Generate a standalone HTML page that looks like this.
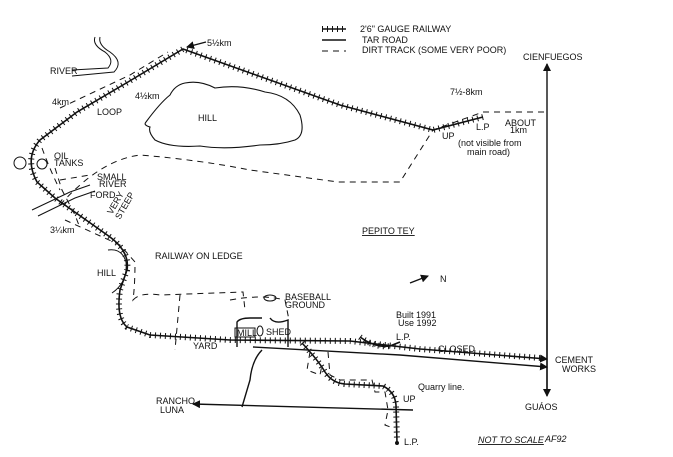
<!DOCTYPE html>
<html><head><meta charset="utf-8"><style>
body{margin:0;background:#fff}
svg{display:block}
text{font-family:"Liberation Sans",sans-serif;fill:#111;font-size:9px}
.rail{fill:none;stroke:#111;stroke-width:1.6}
.tick{fill:none;stroke:#111;stroke-width:6;stroke-dasharray:1 4}
.road{fill:none;stroke:#111;stroke-width:1.4}
.dirt{fill:none;stroke:#111;stroke-width:1;stroke-dasharray:6 5}
</style></head><body>
<svg width="673" height="457" viewBox="0 0 673 457" xmlns="http://www.w3.org/2000/svg">
<defs><marker id="a" markerWidth="8" markerHeight="8" refX="7" refY="4" orient="auto" markerUnits="userSpaceOnUse"><path d="M0,0 L8,4 L0,8 Z" fill="#111"/></marker></defs>
<!-- legend -->
<path class="rail" d="M322,29 H346"/><path class="tick" d="M322,29 H346"/>
<path class="road" d="M322,40 H346"/>
<path class="dirt" d="M322,51 H346" stroke-dasharray="4 4"/>
<text x="360" y="32">2'6" GAUGE RAILWAY</text>
<text x="362" y="43">TAR ROAD</text>
<text x="362" y="53">DIRT TRACK (SOME VERY POOR)</text>
<!-- main railway -->
<path class="rail" d="M483,117 L433,130 L340,105 L183,49 L128,82 L77,112 L40,140 Q24,158 37,182 L55,198 L110,237 Q130,252 127,270 L120,290 Q116,318 127,327 L150,335 L230,340 L350,341 L420,349 L547,359" marker-end="url(#a)"/>
<path class="tick" d="M483,117 L433,130 L340,105 L183,49 L128,82 L77,112 L40,140 Q24,158 37,182 L55,198 L110,237 Q130,252 127,270 L120,290 Q116,318 127,327 L150,335 L230,340 L350,341 L420,349 L540,358"/>
<!-- quarry line -->
<path class="rail" d="M302,343 Q318,360 325,372 Q332,383 345,384 L383,386 Q395,392 396,405 L397,443"/>
<path class="tick" d="M302,343 Q318,360 325,372 Q332,383 345,384 L383,386 Q395,392 396,405 L397,440"/>
<circle cx="397" cy="443" r="2" fill="#111"/>
<!-- LP siding built 1991 -->
<path class="rail" d="M360,337 Q375,348 390,346 L400,342"/><path class="tick" d="M360,337 Q375,348 390,346"/>
<!-- dirt tracks -->
<path class="dirt" d="M60,108 L130,75 L168,52"/>
<path class="dirt" d="M42,148 Q50,170 60,190"/>
<path class="dirt" d="M55,168 L62,190 L75,215 L80,228"/>
<path class="dirt" d="M60,180 L90,175"/>
<path class="dirt" d="M65,220 L120,245 L135,262 Q135,285 133,300 Q140,292 160,295 L243,292 L245,310"/>
<path class="dirt" d="M60,205 Q100,160 140,155 Q200,160 250,170 L338,182 L400,182 L433,130 L483,112 L547,112"/>
<path class="dirt" d="M180,295 L175,350"/>
<path class="dirt" d="M310,352 L307,370 L320,375 L322,365 M328,352 L330,375 L340,380 L372,380 L375,392 L385,392 L388,410 L385,425 L393,428"/>
<path class="dirt" d="M230,300 Q262,294 285,300 L289,320"/>
<!-- hill blob -->
<path fill="none" stroke="#111" stroke-width="1.1" d="M185,83 Q200,80 215,88 Q240,84 265,92 Q290,95 300,115 Q306,135 295,140 Q280,145 260,145 Q225,150 200,146 Q170,148 155,140 Q148,132 150,127 Q143,125 146,122 Q160,103 170,95 Q175,85 185,83 Z"/>
<text x="198" y="121" font-size="13">HILL</text>
<!-- river -->
<path fill="none" stroke="#111" stroke-width="1" d="M95,37 Q92,45 105,52 Q115,60 108,68 L72,70 M100,37 Q98,45 110,52 Q124,62 114,72 L72,76"/>
<text x="50" y="74" font-size="7">RIVER</text>
<!-- small river -->
<path fill="none" stroke="#111" stroke-width="1" d="M32,210 L70,192 L90,185 M38,216 L75,198 L95,191"/>
<!-- hill near ledge -->
<path fill="none" stroke="#111" stroke-width="1" d="M108,250 Q122,248 126,262 Q128,282 112,293"/>
<text x="97" y="276" font-size="7">HILL</text>
<!-- mill area -->
<path class="road" d="M237,347 L237,322 Q240,318 250,318 L262,318 M270,318 Q275,325 288,320 L288,347"/>
<rect x="235" y="328" width="20" height="9" fill="none" stroke="#111"/>
<text x="237" y="336" font-size="6">MILL</text>
<ellipse cx="260" cy="331" rx="3" ry="5" fill="none" stroke="#111"/>
<text x="266" y="335" font-size="7">SHED</text>
<ellipse cx="270" cy="298" rx="6" ry="3" fill="none" stroke="#111"/>
<text x="285" y="300" font-size="7">BASEBALL</text>
<text x="285" y="308" font-size="7">GROUND</text>
<!-- roads -->
<path class="road" d="M253,347 L400,355 L547,367" marker-end="url(#a)"/>
<path class="road" d="M262,350 Q252,360 250,380 L242,407"/>
<path class="road" d="M413,410 L193,404" marker-end="url(#a)"/>
<path class="road" d="M547,395 V64" marker-end="url(#a)"/>
<path class="road" d="M547,300 V396" marker-end="url(#a)"/>
<!-- ovals (oil tanks) -->
<circle cx="20" cy="163" r="6" fill="none" stroke="#111"/>
<circle cx="42" cy="164" r="5" fill="none" stroke="#111"/>
<!-- labels -->
<text x="207" y="46">5½km</text>
<path class="road" stroke-width="1" d="M206,42 L187,47" marker-end="url(#a)"/>
<text x="135" y="99">4½km</text>
<text x="52" y="105">4km</text>
<text x="97" y="115" font-size="7">LOOP</text>
<text x="54" y="159" font-size="7">OIL</text>
<text x="54" y="166" font-size="7">TANKS</text>
<text x="97" y="180" font-size="7">SMALL</text>
<text x="99" y="187" font-size="7">RIVER</text>
<text x="90" y="198" font-size="7">FORD</text>
<text x="50" y="233">3¼km</text>
<text x="112" y="215" font-size="7" transform="rotate(-60 112 215)">VERY</text>
<text x="120" y="220" font-size="7" transform="rotate(-60 120 220)">STEEP</text>
<text x="155" y="259" font-size="7">RAILWAY ON LEDGE</text>
<text x="193" y="349" font-size="6">YARD</text>
<text x="362" y="234" font-size="11" text-decoration="underline">PEPITO TEY</text>
<text x="450" y="95">7½-8km</text>
<text x="476" y="130">L.P</text>
<text x="442" y="139" font-size="7">UP</text>
<text x="458" y="146" font-size="8">(not visible from</text>
<text x="467" y="155" font-size="8">main road)</text>
<text x="505" y="126" font-size="6">ABOUT</text>
<text x="510" y="133" font-size="6">1km</text>
<text x="523" y="60">CIENFUEGOS</text>
<path class="road" d="M410,283 L428,276" stroke-width="2" marker-end="url(#a)"/>
<text x="440" y="282">N</text>
<text x="396" y="318" font-size="7">Built 1991</text>
<text x="398" y="326" font-size="7">Use 1992</text>
<text x="396" y="340" font-size="7">L.P.</text>
<text x="438" y="352" font-size="8">CLOSED</text>
<text x="555" y="363" font-size="7">CEMENT</text>
<text x="562" y="372" font-size="7">WORKS</text>
<text x="525" y="410" font-size="7">GUÁOS</text>
<text x="418" y="390" font-size="8">Quarry line.</text>
<text x="403" y="402" font-size="7">UP</text>
<text x="404" y="445" font-size="7">L.P.</text>
<text x="156" y="404" font-size="7">RANCHO</text>
<text x="160" y="413" font-size="7">LUNA</text>
<text x="478" y="443" font-size="8" font-style="italic" text-decoration="underline">NOT TO SCALE</text>
<text x="545" y="442" font-size="8" font-style="italic">AF92</text>
</svg>
</body></html>
